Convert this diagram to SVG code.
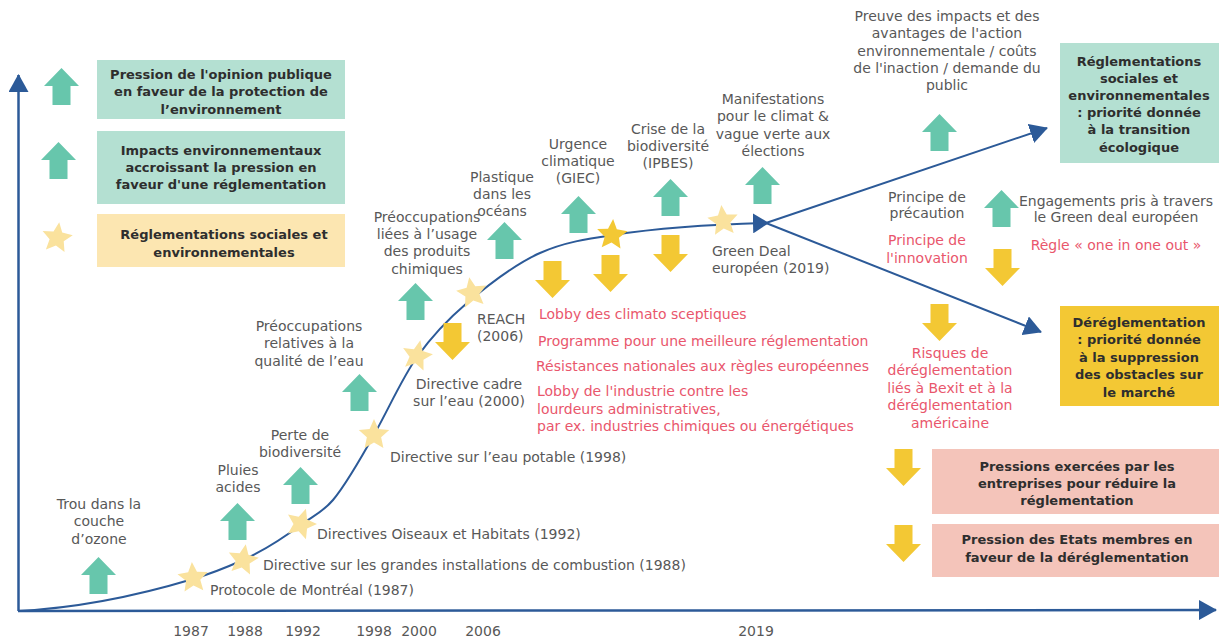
<svg xmlns="http://www.w3.org/2000/svg" xmlns:xlink="http://www.w3.org/1999/xlink" width="1219" height="638" viewBox="0 0 1219 638">
  <style>
    text { font-family: "DejaVu Sans", "Liberation Sans", sans-serif; }
    .t { font-size: 14px; fill: #585858; }
    .r { font-size: 14px; fill: #E9566C; }
    .b { font-size: 13px; font-weight: bold; fill: #2e2e2e; text-anchor: middle; }
    .m { text-anchor: middle; }
    .up { fill: #67C6AC; }
    .dn { fill: #F3C834; }
    .st { fill: #FAE29D; }
    .st2 { fill: #F3C834; }
    .ln { fill: none; stroke: #2C5A98; stroke-width: 2; }
    .ax { fill: none; stroke: #2C5A98; stroke-width: 2.5; }
  </style>
  <defs>
    <marker id="head" markerUnits="userSpaceOnUse" markerWidth="18" markerHeight="20" refX="17" refY="10" orient="auto">
      <path d="M0,0 L18,10 L0,20 Z" fill="#2C5A98"/>
    </marker>
    <marker id="midhead" markerUnits="userSpaceOnUse" markerWidth="16" markerHeight="20" refX="15" refY="10" orient="auto">
      <path d="M0,0 L16,10 L0,20 Z" fill="#2C5A98"/>
    </marker>
    <path id="arrUp" d="M17.5,0 L35,18 L26.5,18 L26.5,37 L8.5,37 L8.5,18 L0,18 Z"/>
    <path id="arrDn" d="M8.5,0 L26.5,0 L26.5,19 L35,19 L17.5,37 L0,19 L8.5,19 Z"/>
    <path id="star" d="M0,-16 L4.41,-6.07 L15.22,-4.94 L7.13,2.32 L9.4,12.94 L0,7.5 L-9.4,12.94 L-7.13,2.32 L-15.22,-4.94 L-4.41,-6.07 Z"/>
  </defs>

  <!-- axes, trend curve and the two possible futures -->
  <g id="connectors">
    <path class="ax" d="M18.5,611 L18.5,75" marker-end="url(#head)"/>
    <path class="ax" d="M18,611 L1216,610" marker-end="url(#head)"/>
    <path class="ln" marker-end="url(#midhead)" d="M18,611 C76.3,608.1 134.7,596.5 193,579 C209.7,574 226.3,567.5 243,560 C262.7,551.1 282.3,538.8 302,524 C312.3,516.3 322.7,512.4 333,500 C347,483.2 361,458.2 375,433 C389,407.8 403,376.6 417,357 C433.7,333.6 450.3,317.2 467,303 C491.3,282.3 515.7,263.9 540,253 C564.3,242.1 588.7,238.6 613,235 C662,227.6 711,224.5 768,223"/>
    <path class="ln" d="M766,223 L1047,128" marker-end="url(#head)"/>
    <path class="ln" d="M766,223 L1041,332" marker-end="url(#head)"/>
  </g>

  <!-- legend -->
  <g id="legend-opinion">
    <use xlink:href="#arrUp" x="44" y="68" class="up"/>
    <rect x="97" y="60" width="248" height="59" fill="#B4E0D2"/>
    <text class="b"><tspan x="221" y="78.5">Pression de l'opinion publique</tspan><tspan x="221" y="96">en faveur de la protection de</tspan><tspan x="221" y="113.5">l’environnement</tspan></text>
  </g>
  <g id="legend-impacts">
    <use xlink:href="#arrUp" x="41" y="142" class="up"/>
    <rect x="97" y="131" width="248" height="73" fill="#B4E0D2"/>
    <text class="b"><tspan x="221" y="154.5">Impacts environnementaux</tspan><tspan x="221" y="171.5">accroissant la pression en</tspan><tspan x="221" y="188.5">faveur d'une réglementation</tspan></text>
  </g>
  <g id="legend-regulations">
    <use xlink:href="#star" transform="translate(57,238) rotate(8)" class="st"/>
    <rect x="97" y="214" width="248" height="53" fill="#FCE6B1"/>
    <text class="b"><tspan x="224" y="238.5">Réglementations sociales et</tspan><tspan x="224" y="256.5">environnementales</tspan></text>
  </g>

  <!-- pressions and events along the curve -->
  <g id="ozone">
    <text class="t m"><tspan x="99" y="509">Trou dans la</tspan><tspan x="99" y="526">couche</tspan><tspan x="99" y="544">d’ozone</tspan></text>
    <use xlink:href="#arrUp" x="81" y="557" class="up"/>
  </g>
  <g id="pluies">
    <text class="t m"><tspan x="238" y="475">Pluies</tspan><tspan x="238" y="492">acides</tspan></text>
    <use xlink:href="#arrUp" x="220" y="503" class="up"/>
  </g>
  <g id="biodiv">
    <text class="t m"><tspan x="300" y="440">Perte de</tspan><tspan x="300" y="457">biodiversité</tspan></text>
    <use xlink:href="#arrUp" x="283" y="467" class="up"/>
  </g>
  <g id="eau">
    <text class="t m"><tspan x="309" y="331">Préoccupations</tspan><tspan x="309" y="348">relatives à la</tspan><tspan x="309" y="366">qualité de l’eau</tspan></text>
    <use xlink:href="#arrUp" x="342" y="374" class="up"/>
  </g>
  <g id="chimiques">
    <text class="t m"><tspan x="427" y="222">Préoccupations</tspan><tspan x="427" y="239">liées à l’usage</tspan><tspan x="427" y="256">des produits</tspan><tspan x="427" y="274">chimiques</tspan></text>
    <use xlink:href="#arrUp" x="398" y="283" class="up"/>
  </g>
  <g id="plastique">
    <text class="t m"><tspan x="502" y="182">Plastique</tspan><tspan x="502" y="199">dans les</tspan><tspan x="502" y="216">océans</tspan></text>
    <use xlink:href="#arrUp" x="487" y="222" class="up"/>
  </g>
  <g id="giec">
    <text class="t m"><tspan x="578" y="149">Urgence</tspan><tspan x="578" y="166">climatique</tspan><tspan x="578" y="183">(GIEC)</tspan></text>
    <use xlink:href="#arrUp" x="561" y="196" class="up"/>
  </g>
  <g id="ipbes">
    <text class="t m"><tspan x="668" y="134">Crise de la</tspan><tspan x="668" y="151">biodiversité</tspan><tspan x="668" y="168">(IPBES)</tspan></text>
    <use xlink:href="#arrUp" x="653" y="179" class="up"/>
  </g>
  <g id="manifestations">
    <text class="t m"><tspan x="773" y="104">Manifestations</tspan><tspan x="773" y="121">pour le climat &amp;</tspan><tspan x="773" y="139">vague verte aux</tspan><tspan x="773" y="156">élections</tspan></text>
    <use xlink:href="#arrUp" x="745" y="167" class="up"/>
  </g>

  <!-- counter-pressions -->
  <g id="counter-pressions">
    <use xlink:href="#arrDn" x="435" y="323" class="dn"/>
    <use xlink:href="#arrDn" x="535" y="261" class="dn"/>
    <use xlink:href="#arrDn" x="593" y="255" class="dn"/>
    <use xlink:href="#arrDn" x="653" y="235" class="dn"/>
    <text class="r" x="539" y="319">Lobby des climato sceptiques</text>
    <text class="r" x="538" y="346">Programme pour une meilleure réglementation</text>
    <text class="r" x="536" y="371">Résistances nationales aux règles européennes</text>
    <text class="r"><tspan x="537" y="396">Lobby de l'industrie contre les</tspan><tspan x="537" y="414">lourdeurs administratives,</tspan><tspan x="537" y="431">par ex. industries chimiques ou énergétiques</tspan></text>
  </g>

  <!-- regulations (stars) -->
  <g id="montreal">
    <use xlink:href="#star" transform="translate(193,578) rotate(-4)" class="st"/>
    <text class="t" x="210" y="595">Protocole de Montréal (1987)</text>
  </g>
  <g id="combustion">
    <use xlink:href="#star" transform="translate(243,560) rotate(10)" class="st"/>
    <text class="t" x="263" y="570">Directive sur les grandes installations de combustion (1988)</text>
  </g>
  <g id="oiseaux">
    <use xlink:href="#star" transform="translate(301,524) rotate(18)" class="st"/>
    <text class="t" x="317" y="539">Directives Oiseaux et Habitats (1992)</text>
  </g>
  <g id="eau-potable">
    <use xlink:href="#star" transform="translate(374,435) rotate(0)" class="st"/>
    <text class="t" x="390" y="462">Directive sur l’eau potable (1998)</text>
  </g>
  <g id="cadre-eau">
    <use xlink:href="#star" transform="translate(417,356) rotate(12)" class="st"/>
    <text class="t m"><tspan x="469" y="389">Directive cadre</tspan><tspan x="469" y="406">sur l’eau (2000)</tspan></text>
  </g>
  <g id="reach">
    <use xlink:href="#star" transform="translate(472,293) rotate(-10)" class="st"/>
    <text class="t"><tspan x="477" y="324">REACH</tspan><tspan x="477" y="341">(2006)</tspan></text>
  </g>
  <use id="star-2015" xlink:href="#star" transform="translate(612,235) rotate(4)" class="st2"/>
  <g id="green-deal">
    <use xlink:href="#star" transform="translate(723,221) rotate(-6)" class="st"/>
    <text class="t"><tspan x="712" y="256">Green Deal</tspan><tspan x="712" y="273">européen (2019)</tspan></text>
  </g>

  <!-- years -->
  <g id="years" class="t m">
    <text x="191" y="636">1987</text>
    <text x="245" y="636">1988</text>
    <text x="303" y="636">1992</text>
    <text x="374" y="636">1998</text>
    <text x="419" y="636">2000</text>
    <text x="483" y="636">2006</text>
    <text x="756" y="636">2019</text>
  </g>

  <!-- right side: forces and outcomes -->
  <g id="preuve">
    <text class="t m"><tspan x="947" y="21">Preuve des impacts et des</tspan><tspan x="947" y="38">avantages de l'action</tspan><tspan x="947" y="56">environnementale / coûts</tspan><tspan x="947" y="73">de l'inaction / demande du</tspan><tspan x="947" y="90">public</tspan></text>
    <use xlink:href="#arrUp" x="922" y="114" class="up"/>
  </g>
  <g id="transition">
    <rect x="1060" y="43" width="159" height="120" fill="#B4E0D2"/>
    <text class="b"><tspan x="1139" y="65.5">Réglementations</tspan><tspan x="1139" y="82.5">sociales et</tspan><tspan x="1139" y="99.5">environnementales</tspan><tspan x="1139" y="116.5">: priorité donnée</tspan><tspan x="1139" y="133.5">à la transition</tspan><tspan x="1139" y="151.5">écologique</tspan></text>
  </g>
  <g id="precaution">
    <text class="t m"><tspan x="927" y="202">Principe de</tspan><tspan x="927" y="218">précaution</tspan></text>
    <text class="r m"><tspan x="927" y="245">Principe de</tspan><tspan x="927" y="263">l'innovation</tspan></text>
  </g>
  <g id="engagements">
    <use xlink:href="#arrUp" x="984" y="190" class="up"/>
    <text class="t m"><tspan x="1116" y="206">Engagements pris à travers</tspan><tspan x="1116" y="222">le Green deal européen</tspan></text>
    <text class="r m" x="1116" y="250">Règle « one in one out »</text>
    <use xlink:href="#arrDn" x="985" y="249" class="dn"/>
  </g>
  <g id="risques">
    <use xlink:href="#arrDn" x="922" y="304" class="dn"/>
    <text class="r m"><tspan x="950" y="358">Risques de</tspan><tspan x="950" y="375">déréglementation</tspan><tspan x="950" y="393">liés à Bexit et à la</tspan><tspan x="950" y="410">déréglementation</tspan><tspan x="950" y="428">américaine</tspan></text>
  </g>
  <g id="dereglementation">
    <rect x="1060" y="306" width="159" height="100" fill="#F3C834"/>
    <text class="b"><tspan x="1139" y="326.5">Déréglementation</tspan><tspan x="1139" y="343.5">: priorité donnée</tspan><tspan x="1139" y="361.5">à la suppression</tspan><tspan x="1139" y="378.5">des obstacles sur</tspan><tspan x="1139" y="396.5">le marché</tspan></text>
  </g>
  <g id="entreprises">
    <use xlink:href="#arrDn" x="886" y="449" class="dn"/>
    <rect x="932" y="449" width="287" height="65" fill="#F4C4BA"/>
    <text class="b"><tspan x="1077" y="470.5">Pressions exercées par les</tspan><tspan x="1077" y="487.5">entreprises pour réduire la</tspan><tspan x="1077" y="504.5">réglementation</tspan></text>
  </g>
  <g id="etats-membres">
    <use xlink:href="#arrDn" x="886" y="525" class="dn"/>
    <rect x="932" y="524" width="287" height="53" fill="#F4C4BA"/>
    <text class="b"><tspan x="1077" y="543.5">Pression des Etats membres en</tspan><tspan x="1077" y="561.5">faveur de la déréglementation</tspan></text>
  </g>
</svg>
